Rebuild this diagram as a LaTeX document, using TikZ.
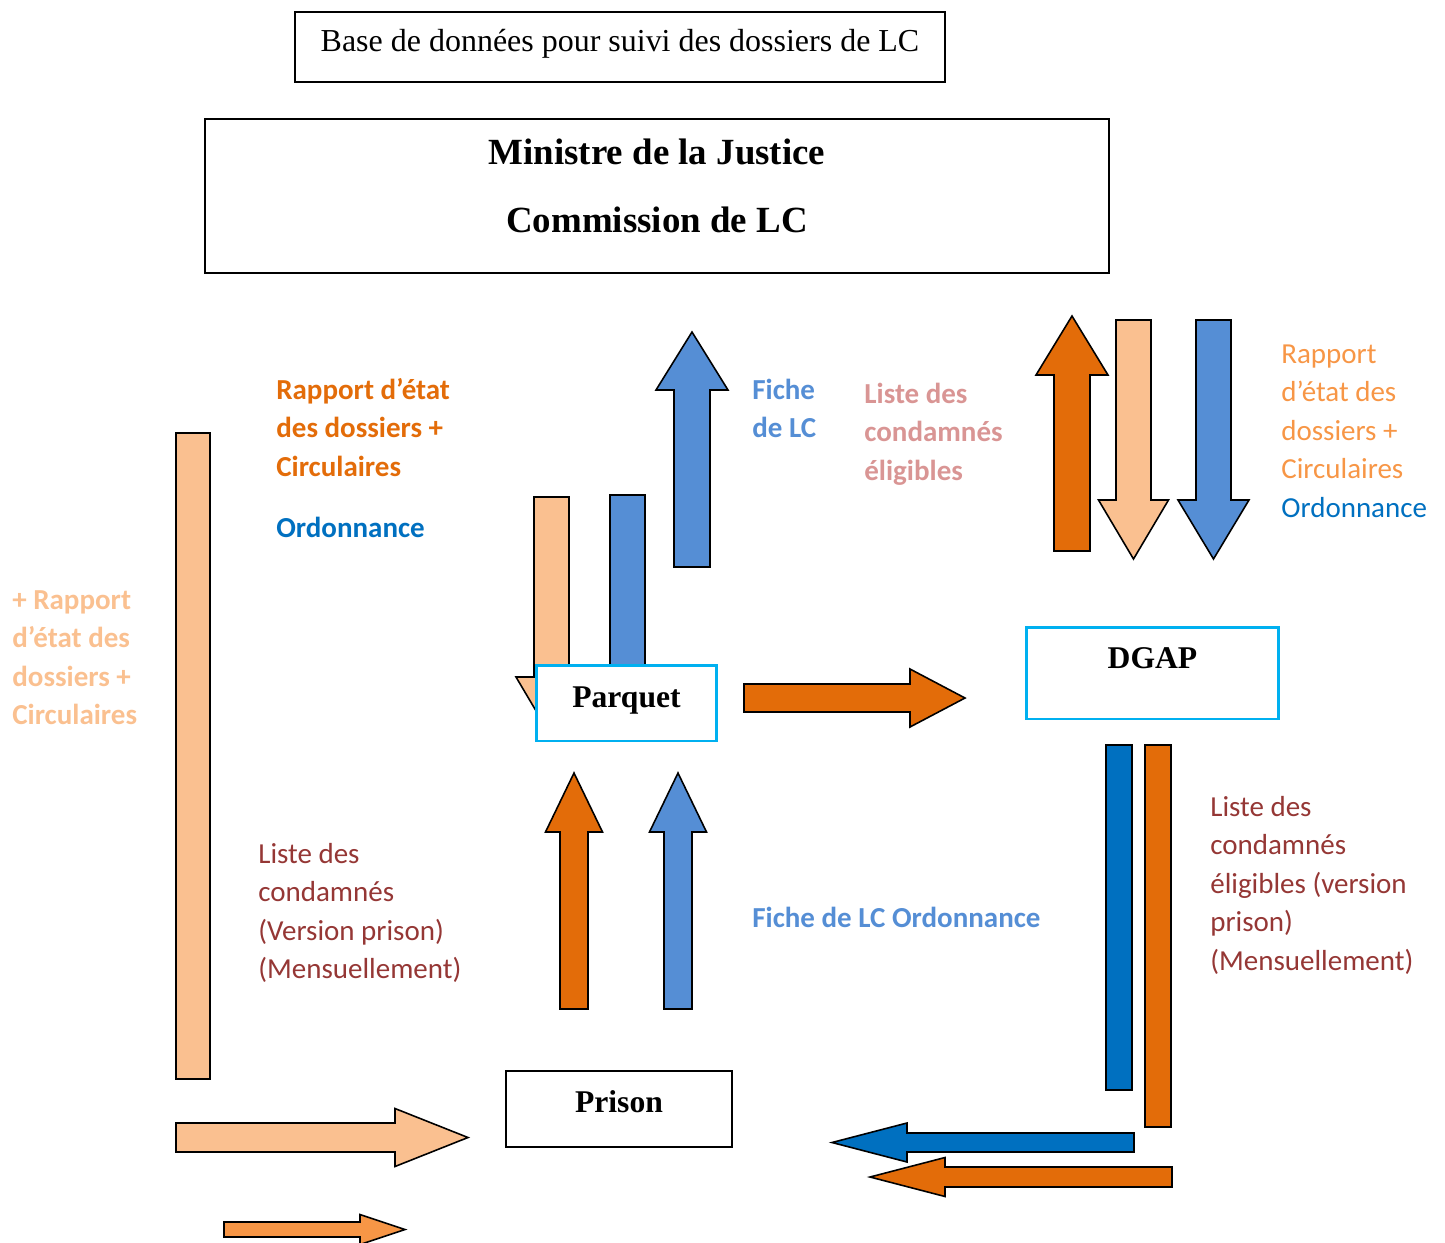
\documentclass[tikz,border=0pt]{standalone}
\usepackage{fontspec}
\setmainfont{Liberation Serif}
\newfontfamily\calib{Carlito}
\usetikzlibrary{positioning}

\definecolor{orangeLC}{HTML}{E36C09}
\definecolor{peach}{HTML}{FAC090}
\definecolor{blueLC}{HTML}{558ED5}
\definecolor{darkblue}{HTML}{0070C0}
\definecolor{lightorange}{HTML}{F79646}
\definecolor{pinkLC}{HTML}{D99594}
\definecolor{darkred}{HTML}{953735}
\definecolor{cyanLC}{HTML}{00B0F0}

\tikzstyle{box} = [draw, line width=1.1pt, fill=white, font=\bfseries\fontsize{18}{21}\selectfont]
\tikzstyle{cyanbox} = [box, draw=cyanLC, line width=1.7pt]
\tikzstyle{blk} = [draw=black, line width=0.9pt, line join=miter]
\tikzstyle{note} = [anchor=base west, align=left, inner sep=0pt, font=\calib\fontsize{16.5}{21.9}\selectfont]
\tikzstyle{notebf} = [note, font=\calib\bfseries\fontsize{16.5}{21.9}\selectfont]

% block arrow: style, tail, angle, length, shaft width, head width, head length
\newcommand{\blockarrow}[7]{%
  \begin{scope}[shift={#2}, rotate=#3]
    \draw[blk, #1] (0,-#5/2) -- (#4-#7,-#5/2) -- (#4-#7,-#6/2) -- (#4,0)
      -- (#4-#7,#6/2) -- (#4-#7,#5/2) -- (0,#5/2) -- cycle;
  \end{scope}}

\begin{document}
\begin{tikzpicture}[x=0.02cm, y=-0.02cm]
  \useasboundingbox (0,0) rectangle (1445,1242);

  %Arrows left
  \draw[blk, fill=peach] (176,433) rectangle (210,1079);
  \blockarrow{fill=peach}{(176,1137.5)}{0}{292}{29}{58}{73}
  \blockarrow{fill=lightorange}{(224,1229.5)}{0}{181}{15}{30}{45}

  %Arrows round Parquet
  \blockarrow{fill=peach}{(551.5,497)}{-90}{240}{35}{71}{60}
  \draw[blk, fill=blueLC] (610,495) rectangle (645,700);
  \blockarrow{fill=blueLC}{(692,567)}{90}{235}{36}{72}{58}
  \blockarrow{fill=orangeLC}{(744,698)}{0}{221}{28}{58}{55}
  \blockarrow{fill=orangeLC}{(574,1009)}{90}{236}{28}{57}{59}
  \blockarrow{fill=blueLC}{(678,1009)}{90}{236}{28}{57}{59}

  %Arrows round DGAP
  \blockarrow{fill=orangeLC}{(1072,551)}{90}{235}{36}{72}{59}
  \blockarrow{fill=peach}{(1133.5,320)}{-90}{239}{35}{70}{59}
  \blockarrow{fill=blueLC}{(1213.5,320)}{-90}{239}{35}{71}{59}
  \draw[blk, fill=darkblue] (1106,745) rectangle (1132,1090);
  \draw[blk, fill=orangeLC] (1145,745) rectangle (1171,1127);
  \blockarrow{fill=darkblue}{(1134,1142.5)}{180}{302}{19}{39}{75}
  \blockarrow{fill=orangeLC}{(1172,1177)}{180}{302}{20}{39}{75}

  %Boxes
  \node[box, line width=0.8pt, font=\fontsize{18.2}{22}\selectfont, text depth=7pt,
        minimum width=13cm, minimum height=1.4cm] (base) at (620,47)
        {Base de données pour suivi des dossiers de LC};
  \node[box, font=\bfseries\fontsize{21}{25}\selectfont, align=center, text depth=11.4pt,
        minimum width=18.08cm, minimum height=3.08cm] (ministre) at (657,196)
        {Ministre de la Justice\\[13.7pt]Commission de LC};
  \node[cyanbox, text depth=7pt, minimum width=3.62cm, minimum height=1.52cm] (parquet) at (626.5,703) {Parquet};
  \node[cyanbox, text depth=17pt, minimum width=5.06cm, minimum height=1.84cm] (dgap) at (1152.5,673) {DGAP};
  \node[box, text depth=9pt, minimum width=4.52cm, minimum height=1.52cm] (prison) at (619,1109) {Prison};

  %Labels (anchored on the baseline of their last line)
  \node[notebf, text=orangeLC] (rapportP) at (276,476) {Rapport d’état\\des dossiers +\\Circulaires};
  \node[notebf, text=darkblue] (ordP) at (276,537) {Ordonnance};
  \node[notebf, text=blueLC] (ficheP) at (752,437.5) {Fiche\\de LC};
  \node[notebf, text=pinkLC] (listeP) at (864,480) {Liste des\\condamnés\\éligibles};
  \node[note, text=lightorange] (rapportD) at (1281,517)
        {Rapport\\d’état des\\dossiers +\\Circulaires\\\textcolor{darkblue}{Ordonnance}};
  \node[notebf, text=peach] (rapportL) at (12,724.5) {+ Rapport\\d’état des\\dossiers +\\Circulaires};
  \node[note, text=darkred] (listePr) at (258,978.5) {Liste des\\condamnés\\(Version prison)\\(Mensuellement)};
  \node[notebf, text=blueLC] (ficheOrd) at (752,927) {Fiche de LC Ordonnance};
  \node[note, text=darkred] (listeD) at (1210,970)
        {Liste des\\condamnés\\éligibles (version\\prison)\\(Mensuellement)};
\end{tikzpicture}
\end{document}
